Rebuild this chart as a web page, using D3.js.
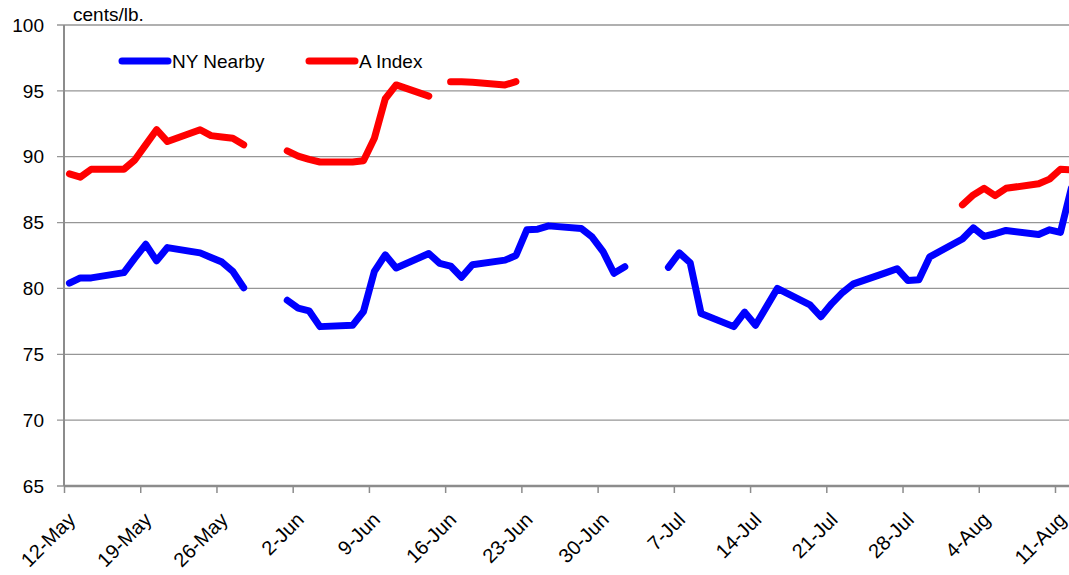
<!DOCTYPE html>
<html>
<head>
<meta charset="utf-8">
<script src="https://cdn.jsdelivr.net/npm/d3@7"></script>
<style>
  body { margin: 0; background: #fff; }
  text { font-family: "Liberation Sans", Arial, sans-serif; fill: #000; }
</style>
</head>
<body>
<div id="chart"></div>
<script>
var svgWidth = 1069;
var svgHeight = 575;

// trading days (2010)
var dates = [
  "2010-05-12", "2010-05-13", "2010-05-14", "2010-05-17", "2010-05-18", "2010-05-19", "2010-05-20",
  "2010-05-21", "2010-05-24", "2010-05-25", "2010-05-26", "2010-05-27", "2010-05-28", "2010-05-31",
  "2010-06-01", "2010-06-02", "2010-06-03", "2010-06-04", "2010-06-07", "2010-06-08", "2010-06-09",
  "2010-06-10", "2010-06-11", "2010-06-14", "2010-06-15", "2010-06-16", "2010-06-17", "2010-06-18",
  "2010-06-21", "2010-06-22", "2010-06-23", "2010-06-24", "2010-06-25", "2010-06-28", "2010-06-29",
  "2010-06-30", "2010-07-01", "2010-07-02", "2010-07-05", "2010-07-06", "2010-07-07", "2010-07-08",
  "2010-07-09", "2010-07-12", "2010-07-13", "2010-07-14", "2010-07-15", "2010-07-16", "2010-07-19",
  "2010-07-20", "2010-07-21", "2010-07-22", "2010-07-23", "2010-07-26", "2010-07-27", "2010-07-28",
  "2010-07-29", "2010-07-30", "2010-08-02", "2010-08-03", "2010-08-04", "2010-08-05", "2010-08-06",
  "2010-08-09", "2010-08-10", "2010-08-11", "2010-08-12"
];

var nyNearby = [
  80.4, 80.8, 80.8, 81.2, 82.3, 83.35, 82.1,
  83.1, 82.7, 82.35, 82.0, 81.3, 80.05, null,
  79.1, 78.5, 78.3, 77.1, 77.2, 78.25, 81.3,
  82.55, 81.55, 82.65, 81.9, 81.7, 80.85, 81.8,
  82.15, 82.5, 84.45, 84.5, 84.75, 84.55, 83.9,
  82.8, 81.15, 81.65, null, 81.6, 82.7, 81.95,
  78.1, 77.1, 78.2, 77.2, 78.6, 80.0, 78.75,
  77.85, 78.85, 79.7, 80.35, 81.2, 81.5, 80.6,
  80.65, 82.4, 83.75, 84.6, 83.95, 84.15, 84.4,
  84.1, 84.45, 84.25, 87.6
];

var aIndex = [
  88.7, 88.45, 89.05, 89.05, 89.75, 90.9, 92.05,
  91.15, 92.05, 91.6, 91.5, 91.4, 90.9, null,
  90.45, 90.05, 89.8, 89.6, 89.6, 89.7, 91.4,
  94.4, 95.45, 94.6, null, 95.7, 95.7, 95.65,
  95.45, 95.7, null, null, null, null, null,
  null, null, null, null, null, null, null,
  null, null, null, null, null, null, null,
  null, null, null, null, null, null, null,
  null, null, 86.35, 87.1, 87.6, 87.05, 87.6,
  87.95, 88.3, 89.05, 89.0
];

var tickDates = [
  "2010-05-12", "2010-05-19", "2010-05-26", "2010-06-02", "2010-06-09", "2010-06-16", "2010-06-23",
  "2010-06-30", "2010-07-07", "2010-07-14", "2010-07-21", "2010-07-28", "2010-08-04", "2010-08-11"
];

var yTicks = [65, 70, 75, 80, 85, 90, 95, 100];

var seriesNames = ["NY Nearby", "A Index"];
var seriesColors = ["#0000ff", "#ff0000"];

var parseDate = d3.utcParse("%Y-%m-%d");
var fmt = d3.utcFormat("%-d-%b");

var plotLeft = 64, plotTop = 25, plotBottom = 486;
var dayPx = 10.89;

var svg = d3.select("#chart")
  .append("svg")
  .attr("width", svgWidth)
  .attr("height", svgHeight);

var x = d3.scaleUtc()
  .domain([parseDate("2010-05-12"), parseDate("2010-08-16")])
  .range([plotLeft, plotLeft + 96 * dayPx]);

var y = d3.scaleLinear()
  .domain([65, 100])
  .range([plotBottom, plotTop]);

// gridlines
svg.append("g")
  .selectAll("line")
  .data(yTicks)
  .enter()
  .append("line")
  .attr("x1", plotLeft - 7)
  .attr("x2", svgWidth)
  .attr("y1", d => y(d))
  .attr("y2", d => y(d))
  .attr("stroke", "#969696")
  .attr("stroke-width", 1.3);

// y tick labels
svg.append("g")
  .selectAll("text")
  .data(yTicks)
  .enter()
  .append("text")
  .attr("x", 44)
  .attr("y", d => y(d))
  .attr("dy", "0.35em")
  .attr("text-anchor", "end")
  .style("font-size", "19px")
  .text(d => d);

// y axis line
svg.append("line")
  .attr("x1", plotLeft).attr("x2", plotLeft)
  .attr("y1", plotTop).attr("y2", plotBottom)
  .attr("stroke", "#8c8c8c")
  .attr("stroke-width", 2);

// x axis
var xAxis = d3.axisBottom(x)
  .tickValues(tickDates.map(parseDate))
  .tickFormat(fmt)
  .tickSize(7)
  .tickSizeOuter(0);

var xg = svg.append("g")
  .attr("transform", `translate(0, ${plotBottom})`)
  .call(xAxis);

xg.select(".domain").attr("stroke", "#8c8c8c").attr("stroke-width", 2.5)
  .attr("d", `M${plotLeft},0H${svgWidth}`);
xg.selectAll(".tick line").attr("stroke", "#8c8c8c").attr("stroke-width", 1.5);
xg.selectAll(".tick text")
  .attr("y", 0)
  .attr("dy", 0)
  .attr("text-anchor", "end")
  .attr("transform", "translate(12, 35) rotate(-45)")
  .style("font-size", "20px")
  .style("font-family", "'Liberation Sans', Arial, sans-serif");

// series
var lineGen = d3.line()
  .defined(d => d.v != null)
  .x(d => x(d3.utcHour.offset(d.date, 12)))
  .y(d => y(d.v));

[nyNearby, aIndex].forEach(function(values, i) {
  var pts = dates.map((d, k) => ({ date: parseDate(d), v: values[k] }));
  svg.append("path")
    .datum(pts)
    .attr("fill", "none")
    .attr("stroke", seriesColors[i])
    .attr("stroke-width", 7)
    .attr("stroke-linejoin", "round")
    .attr("stroke-linecap", "round")
    .attr("d", lineGen);
});

// unit label
svg.append("text")
  .attr("x", 73)
  .attr("y", 21)
  .style("font-size", "19px")
  .text("cents/lb.");

// legend
var legendX = [122, 309];
seriesNames.forEach(function(name, i) {
  var g = svg.append("g").attr("transform", `translate(${legendX[i]}, 61)`);
  g.append("line")
    .attr("x1", 0).attr("x2", 46)
    .attr("y1", 0).attr("y2", 0)
    .attr("stroke", seriesColors[i])
    .attr("stroke-width", 7)
    .attr("stroke-linecap", "round");
  g.append("text")
    .attr("x", 50)
    .attr("y", 0)
    .attr("dy", "0.35em")
    .style("font-size", "19px")
    .text(name);
});
</script>
</body>
</html>
